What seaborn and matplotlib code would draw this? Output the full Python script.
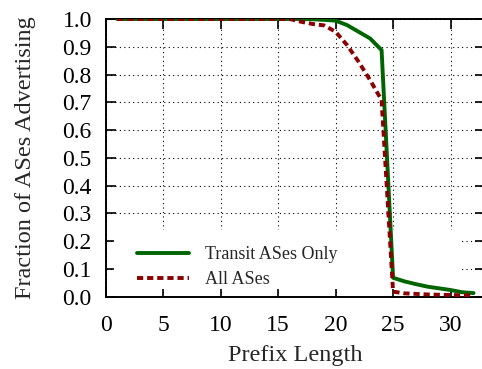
import numpy as np
import pandas as pd
import matplotlib
matplotlib.use("Agg")
import matplotlib.pyplot as plt
import matplotlib.transforms as mtransforms
from matplotlib.patches import Rectangle
import seaborn as sns

# Fraction of ASes advertising prefixes of each length
prefix_len = list(range(1, 33))
transit_only = [1.0] * 16 + [1.0, 0.999, 0.997, 0.994, 0.978, 0.954, 0.93, 0.888,
                             0.068, 0.055, 0.045, 0.036, 0.030, 0.024, 0.016, 0.013]
all_ases = [1.0] * 16 + [0.99, 0.982, 0.977, 0.954, 0.906, 0.846, 0.78, 0.708,
                         0.018, 0.012, 0.010, 0.008, 0.007, 0.006, 0.005, 0.004]

series_names = ["Transit ASes Only", "All ASes"]
x_ticks = [0, 5, 10, 15, 20, 25, 30]
y_ticks = [0.0, 0.1, 0.2, 0.3, 0.4, 0.5, 0.6, 0.7, 0.8, 0.9, 1.0]

df = pd.DataFrame({
    "Prefix Length": prefix_len * 2,
    "Fraction": transit_only + all_ases,
    "Set": [series_names[0]] * len(prefix_len) + [series_names[1]] * len(prefix_len),
})

sns.set_style("ticks")
plt.rcParams["font.family"] = ["Liberation Serif", "DejaVu Serif"]
plt.rcParams["axes.axisbelow"] = True

fig = plt.figure(figsize=(4.82, 3.69), dpi=100)
ax = fig.add_axes([0.2193, 0.196, 0.787, 0.7525])

green, red = "#006400", "#8b0000"
dash = (1.6, 1.0)
palette = {series_names[0]: green, series_names[1]: red}
sns.lineplot(data=df, x="Prefix Length", y="Fraction", hue="Set", style="Set",
             palette=palette, dashes={series_names[0]: "", series_names[1]: dash},
             linewidth=2.8, ax=ax, legend=False, zorder=3)

ax.set_xlim(0, 33)
ax.set_ylim(0, 1.0)
ax.set_xticks(x_ticks)
ax.set_yticks(y_ticks)
ax.set_yticklabels([f"{v:.1f}" for v in y_ticks])
ax.grid(True, color="black", linestyle=(0, (1, 3)), linewidth=0.8)
ax.tick_params(direction="in", length=7, width=1.2, top=True, right=True,
               labelsize=17, colors="black")
ax.tick_params(axis="y", pad=10)
ax.tick_params(axis="x", pad=13)
for s in ax.spines.values():
    s.set_linewidth(1.4)
    s.set_color("black")
    s.set_visible(True)

ax.set_xlabel("Prefix Length", fontsize=17.5, labelpad=7)
ax.set_ylabel("Fraction of ASes Advertising", fontsize=17.5, labelpad=19)

# opaque key area: blank the grid behind the legend, leaving tick marks visible
off = mtransforms.ScaledTranslation(8 / 100, 8 / 100, fig.dpi_scale_trans)
ax.add_patch(Rectangle((0, 0), 30.15, 0.21, transform=ax.transData + off,
                       facecolor="white", edgecolor="none", zorder=1))

handles = [plt.Line2D([], [], color=green, linewidth=2.8),
           plt.Line2D([], [], color=red, linewidth=2.8, dashes=dash)]
ax.legend(handles, series_names, loc="lower left", bbox_to_anchor=(0.063, 0.005),
          frameon=False, fontsize=13, handlelength=2.9, handletextpad=0.9,
          labelspacing=0.45, borderaxespad=0)

fig.savefig("out.png", dpi=100)
